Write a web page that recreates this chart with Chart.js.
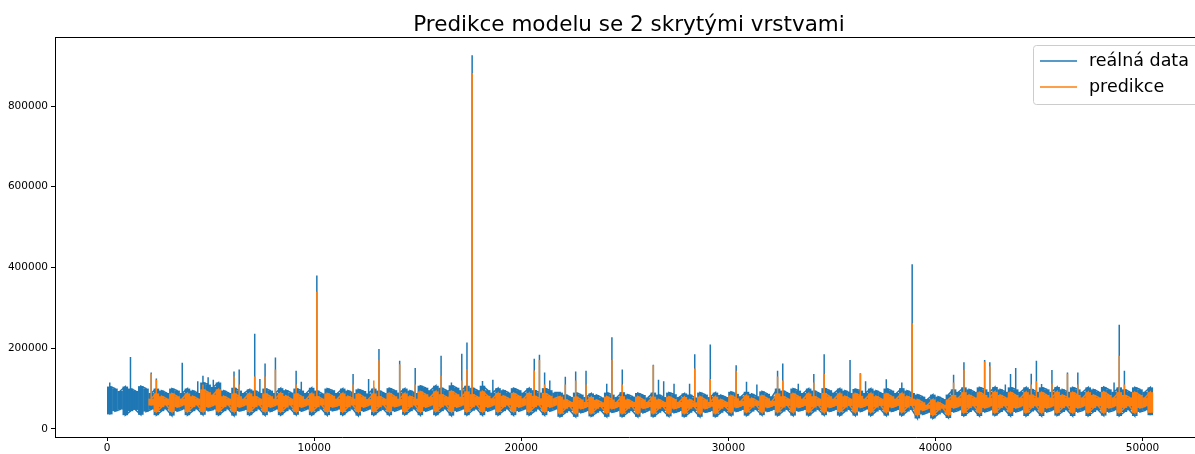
<!DOCTYPE html>
<html>
<head>
<meta charset="utf-8">
<title>Predikce modelu se 2 skrytými vrstvami</title>
<script src="https://cdn.jsdelivr.net/npm/chart.js@4/dist/chart.umd.min.js"></script>
<style>
  html, body { margin: 0; padding: 0; background: #fff; overflow: hidden; }
  #wrap { width: 1215px; height: 454px; }
</style>
</head>
<body>
<div id="wrap"><canvas id="predChart" width="1215" height="454"></canvas></div>
<script>
// Series sampled in bins of 250 steps, values in thousands:
// low = bottom of the bin, top = upper edge of the dense band, peaks = isolated spikes [bin, value]
const BIN = 250;
const REAL_START = 0;
const PRED_START = 2000;

const realTop = [
    105, 100, 94, 105, 100, 94, 106, 100, 89, 100, 95, 89, 100, 95, 89,
    100, 95, 89, 115, 110, 104, 115, 95, 89, 102, 95, 89, 98, 95, 89,
    100, 95, 89, 101, 96, 90, 100, 95, 89, 102, 95, 88, 100, 96, 89,
    100, 95, 89, 98, 94, 88, 100, 95, 89, 101, 96, 90, 100, 95, 89,
    107, 102, 96, 107, 102, 96, 108, 102, 96, 107, 102, 96, 107, 96, 90,
    101, 96, 90, 101, 96, 90, 101, 96, 90, 101, 96, 90, 90, 85, 79,
    90, 85, 79, 88, 84, 78, 90, 85, 79, 91, 85, 80, 89, 84, 78,
    90, 85, 79, 90, 86, 79, 88, 85, 78, 90, 85, 79, 90, 84, 79,
    92, 87, 81, 92, 87, 81, 93, 87, 81, 100, 95, 89, 100, 95, 89,
    100, 95, 89, 101, 96, 90, 100, 95, 89, 99, 95, 89, 100, 95, 89,
    100, 95, 89, 101, 95, 89, 85, 80, 74, 85, 80, 74, 85, 98, 92,
    103, 98, 92, 103, 98, 92, 104, 98, 92, 103, 98, 92, 103, 99, 92,
    103, 98, 92, 104, 98, 92, 103, 98, 92, 103, 98, 92, 104, 98, 92,
    103, 98, 92, 103, 98, 92, 103
];
const realLow = [
    36, 44, 48, 34, 44, 47, 35, 43, 48, 34, 44, 48, 33, 44, 48,
    34, 44, 48, 35, 45, 48, 34, 44, 48, 33, 44, 47, 34, 44, 48,
    34, 43, 48, 34, 44, 48, 35, 44, 48, 34, 44, 48, 34, 45, 48,
    34, 44, 48, 33, 44, 48, 34, 44, 47, 34, 44, 48, 35, 44, 48,
    34, 44, 48, 34, 44, 48, 33, 44, 48, 34, 45, 48, 34, 44, 48,
    34, 44, 48, 34, 44, 48, 34, 43, 48, 34, 44, 48, 30, 40, 44,
    30, 40, 44, 31, 40, 44, 30, 41, 44, 30, 40, 44, 30, 40, 45,
    30, 40, 44, 31, 40, 44, 30, 40, 44, 30, 41, 44, 30, 40, 44,
    33, 43, 47, 33, 43, 47, 34, 43, 47, 33, 43, 47, 33, 44, 47,
    33, 43, 47, 34, 43, 47, 33, 43, 47, 33, 43, 48, 33, 43, 47,
    33, 43, 47, 33, 43, 47, 26, 36, 40, 26, 36, 40, 27, 42, 46,
    32, 42, 46, 32, 42, 46, 33, 42, 46, 32, 42, 46, 32, 43, 46,
    32, 42, 46, 33, 42, 46, 32, 42, 46, 32, 42, 46, 33, 42, 46,
    32, 42, 46, 32, 42, 46, 34
];
const realPeaks = [
    [0, 115], [4, 178], [8, 140], [9, 125], [14, 164], [17, 118], [18, 132], [19, 128], [20, 122],
    [21, 115], [24, 142], [25, 147], [28, 236], [29, 124], [30, 162], [32, 177], [36, 144], [37, 117],
    [40, 380], [47, 136], [50, 124], [52, 198], [56, 169], [59, 151], [64, 181], [66, 115], [68, 186],
    [69, 214], [70, 926], [72, 119], [74, 122], [82, 174], [83, 184], [84, 140], [85, 120], [88, 129],
    [90, 142], [92, 144], [96, 112], [97, 227], [99, 147], [105, 159], [106, 122], [107, 118],
    [109, 112], [112, 112], [113, 185], [116, 209], [121, 158], [123, 117], [125, 110], [129, 144],
    [130, 162], [133, 112], [136, 136], [138, 185], [143, 171], [145, 138], [146, 118], [150, 123],
    [153, 115], [155, 408], [163, 134], [165, 165], [169, 171], [170, 165], [173, 110], [174, 136],
    [175, 151], [178, 137], [179, 169], [180, 111], [182, 146], [185, 140], [187, 140], [194, 115],
    [195, 258], [196, 144]
];

// prediction bins count from PRED_START
const predTop = [
    75, 88, 81, 75, 88, 81, 75,
    88, 81, 75, 98, 91, 85, 98, 81, 75, 88, 81, 75, 88, 81, 75,
    88, 81, 75, 89, 82, 75, 88, 81, 74, 88, 81, 75, 88, 82, 75,
    88, 81, 75, 87, 80, 74, 88, 81, 75, 89, 81, 75, 88, 81, 75,
    93, 86, 80, 93, 86, 80, 94, 86, 80, 93, 86, 80, 93, 82, 76,
    89, 82, 76, 89, 82, 76, 89, 82, 76, 89, 82, 76, 80, 73, 67,
    80, 73, 67, 79, 72, 66, 80, 73, 67, 81, 73, 67, 80, 73, 67,
    80, 73, 67, 80, 74, 67, 79, 73, 66, 80, 73, 67, 80, 73, 67,
    83, 76, 70, 83, 76, 70, 83, 76, 70, 88, 81, 75, 88, 81, 75,
    88, 81, 75, 89, 81, 75, 88, 81, 75, 88, 82, 75, 88, 81, 75,
    88, 81, 75, 88, 81, 75, 73, 66, 60, 73, 66, 60, 73, 84, 78,
    91, 84, 78, 91, 84, 78, 92, 84, 78, 91, 84, 78, 91, 85, 78,
    91, 84, 78, 92, 84, 78, 91, 84, 78, 91, 84, 78, 92, 84, 78,
    91, 84, 78, 91, 84, 78, 91
];
const predLow = [
    58, 42, 54, 58, 42, 54, 58,
    42, 54, 58, 42, 54, 58, 43, 54, 58, 42, 54, 58, 42, 54, 58,
    42, 54, 58, 42, 53, 58, 42, 54, 58, 43, 54, 58, 42, 54, 57,
    42, 54, 58, 42, 54, 58, 42, 54, 58, 42, 55, 58, 42, 54, 58,
    42, 54, 58, 43, 54, 58, 42, 54, 58, 42, 54, 58, 42, 54, 58,
    42, 54, 58, 42, 54, 58, 42, 54, 58, 42, 54, 58, 38, 50, 54,
    38, 50, 54, 38, 50, 54, 39, 50, 54, 38, 50, 54, 38, 51, 54,
    38, 50, 54, 38, 50, 54, 38, 50, 54, 38, 50, 55, 38, 50, 54,
    41, 53, 57, 41, 53, 57, 41, 53, 57, 41, 53, 57, 41, 53, 57,
    41, 53, 57, 41, 53, 57, 42, 53, 57, 41, 53, 57, 41, 53, 57,
    41, 53, 57, 41, 53, 57, 34, 46, 50, 34, 46, 50, 34, 52, 56,
    40, 52, 56, 40, 52, 56, 40, 52, 56, 41, 52, 56, 40, 52, 56,
    40, 52, 56, 40, 52, 56, 40, 52, 56, 40, 52, 56, 40, 52, 56,
    40, 52, 56, 40, 52, 56, 40
];
const predPeaks = [
    [0, 137], [1, 122], [10, 110], [16, 130], [17, 110], [20, 130], [22, 130], [24, 147], [28, 110],
    [32, 340], [39, 110], [43, 120], [44, 170], [48, 160], [51, 110], [56, 132], [60, 120], [61, 148],
    [62, 882], [74, 145], [75, 171], [76, 110], [80, 110], [82, 120], [84, 110], [89, 171], [91, 110],
    [97, 158], [105, 150], [108, 124], [113, 144], [121, 130], [122, 120], [128, 115], [130, 136],
    [137, 138], [147, 262], [155, 115], [157, 146], [161, 167], [162, 155], [170, 110], [171, 118],
    [174, 112], [177, 137], [179, 110], [187, 181], [188, 110]
];

const xTicks = [0, 10000, 20000, 30000, 40000, 50000];
const yTicks = [0, 200000, 400000, 600000, 800000];
const seriesLabels = ['reálná data', 'predikce'];
const titleText = 'Predikce modelu se 2 skrytými vrstvami';

const REAL_COLOR = '#1f77b4';
const PRED_COLOR = '#ff7f0e';
const FONT = "'DejaVu Sans', sans-serif";

// vertical stroke at each bin centre (low -> peak -> top), direction alternating
// so neighbouring bins join along the band edges
function linePoints(start, lows, tops, peaks) {
    const peakAt = new Map(peaks);
    const pts = [];
    lows.forEach(function(lo, i) {
        const x = start + i * BIN + BIN / 2;
        const seq = [lo];
        if (peakAt.has(i)) seq.push(peakAt.get(i));
        seq.push(tops[i]);
        if (i % 2 === 1) seq.reverse();
        seq.forEach(function(v) { pts.push({ x: x, y: v * 1000 }); });
    });
    return pts;
}

// one floating bar per bin spanning the dense part of the signal
function bandPoints(start, lows, tops) {
    return lows.map(function(lo, i) {
        return { x: start + i * BIN + BIN / 2, y: [lo * 1000, tops[i] * 1000] };
    });
}

function bandDataset(data, color, order) {
    return {
        type: 'bar',
        data: data,
        backgroundColor: color,
        borderWidth: 0,
        grouped: false,
        categoryPercentage: 1,
        barPercentage: 1.08,
        order: order
    };
}

// title, top spine and the legend box
const decorPlugin = {
    id: 'decor',
    afterDraw(chart) {
        const ctx = chart.ctx;
        const area = chart.chartArea;
        ctx.save();

        ctx.strokeStyle = '#000';
        ctx.lineWidth = 1;
        ctx.beginPath();
        ctx.moveTo(area.left, area.top + 0.5);
        ctx.lineTo(area.right, area.top + 0.5);
        ctx.stroke();

        ctx.fillStyle = '#000';
        ctx.font = '21.5px ' + FONT;
        ctx.textAlign = 'center';
        ctx.textBaseline = 'alphabetic';
        ctx.fillText(titleText, (area.left + area.right) / 2, 31);

        // legend
        const lx = 1033, ly = 45, lw = 190, lh = 59;
        ctx.fillStyle = 'rgba(255,255,255,0.8)';
        ctx.strokeStyle = '#cccccc';
        ctx.beginPath();
        ctx.roundRect(lx + 0.5, ly + 0.5, lw, lh, 3);
        ctx.fill();
        ctx.stroke();

        ctx.font = '17.5px ' + FONT;
        ctx.textAlign = 'left';
        ctx.textBaseline = 'middle';
        chart.data.datasets.filter(function(ds) { return ds.label; }).forEach(function(ds, i) {
            const y = ly + 16 + i * 26;
            ctx.strokeStyle = ds.borderColor;
            ctx.lineWidth = 1.5;
            ctx.beginPath();
            ctx.moveTo(lx + 7, y);
            ctx.lineTo(lx + 44, y);
            ctx.stroke();
            ctx.fillStyle = '#000';
            ctx.fillText(ds.label, lx + 56, y);
        });
        ctx.restore();
    }
};

const tickFont = { family: FONT, size: 10.5 };

new Chart(document.getElementById('predChart'), {
    type: 'line',
    data: {
        datasets: [
            {
                label: seriesLabels[0],
                data: linePoints(REAL_START, realLow, realTop, realPeaks),
                borderColor: REAL_COLOR,
                borderWidth: 1.5,
                pointRadius: 0,
                tension: 0,
                fill: false,
                order: 3
            },
            bandDataset(bandPoints(REAL_START, realLow, realTop), REAL_COLOR, 4),
            {
                label: seriesLabels[1],
                data: linePoints(PRED_START, predLow, predTop, predPeaks),
                borderColor: PRED_COLOR,
                borderWidth: 1.5,
                pointRadius: 0,
                tension: 0,
                fill: false,
                order: 1
            },
            bandDataset(bandPoints(PRED_START, predLow, predTop), PRED_COLOR, 2)
        ]
    },
    options: {
        responsive: false,
        animation: false,
        events: [],
        layout: { padding: { top: 37, right: 12, left: 0, bottom: 0 } },
        plugins: {
            legend: { display: false },
            title: { display: false },
            tooltip: { enabled: false }
        },
        scales: {
            x: {
                type: 'linear',
                min: -2520,
                max: 52920,
                offset: false,
                afterBuildTicks: function(scale) {
                    scale.ticks = xTicks.map(function(v) { return { value: v }; });
                },
                afterFit: function(scale) { scale.height = 17; },
                grid: { display: true, drawOnChartArea: false, drawTicks: true, tickLength: 4, color: '#000', offset: false },
                border: { display: true, color: '#000', width: 1 },
                ticks: {
                    padding: 1,
                    maxRotation: 0,
                    autoSkip: false,
                    color: '#000',
                    font: tickFont,
                    callback: function(v) { return String(v); }
                }
            },
            y: {
                type: 'linear',
                min: -20000,
                max: 971000,
                afterBuildTicks: function(scale) {
                    scale.ticks = yTicks.map(function(v) { return { value: v }; });
                },
                afterFit: function(scale) { scale.width = 55; },
                grid: { display: true, drawOnChartArea: false, drawTicks: true, tickLength: 4, color: '#000' },
                border: { display: true, color: '#000', width: 1 },
                ticks: {
                    padding: 3,
                    autoSkip: false,
                    color: '#000',
                    font: tickFont,
                    callback: function(v) { return String(v); }
                }
            }
        }
    },
    plugins: [decorPlugin]
});
</script>
</body>
</html>
